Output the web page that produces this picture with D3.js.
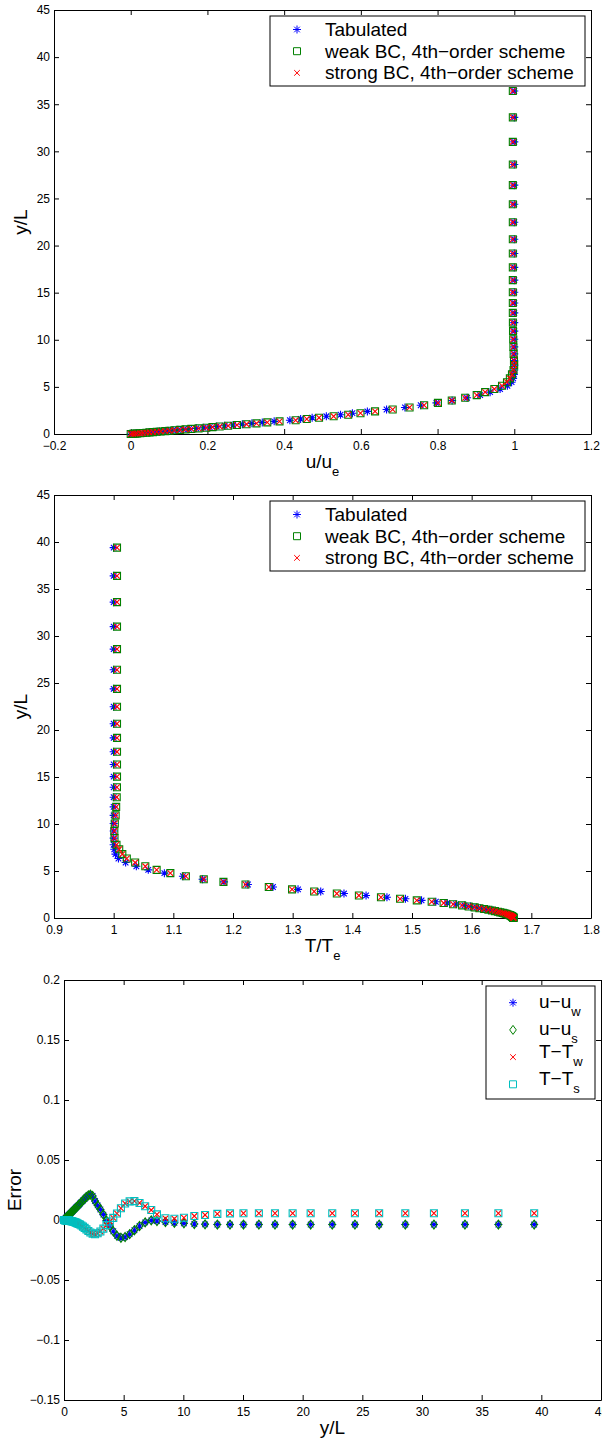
<!DOCTYPE html>
<html>
<head>
<meta charset="utf-8">
<script src="https://cdn.jsdelivr.net/npm/d3@7"></script>
<style>
  body { margin: 0; background: #fff; }
  svg { display: block; font-family: "Liberation Sans", Arial, sans-serif; }
</style>
</head>
<body>
<div id="chart"></div>
<script>
// wall-normal positions y/L of the profile points
const yGrid = [
  0, 0.02, 0.04, 0.06, 0.085, 0.11, 0.14, 0.17, 0.2,
  0.235, 0.27, 0.31, 0.35, 0.395, 0.44, 0.49, 0.54, 0.6,
  0.665, 0.73, 0.8, 0.875, 0.955, 1.04, 1.13, 1.23, 1.34,
  1.46, 1.59, 1.73, 1.88, 2.04, 2.21, 2.4, 2.6, 2.82,
  3.05, 3.3, 3.56, 3.84, 4.13, 4.44, 4.77, 5.12, 5.5,
  5.9, 6.33, 6.8, 7.31, 7.79, 8.5, 9.25, 10.05, 10.92,
  11.82, 12.85, 13.91, 15.04, 16.33, 17.68, 19.16, 20.67, 22.48,
  24.38, 26.41, 28.6, 31.0, 33.6, 36.4, 39.4
];

// u/u_e
const uTab = [
  0, 0.006, 0.012, 0.016, 0.024, 0.031, 0.040, 0.047, 0.056,
  0.066, 0.075, 0.087, 0.097, 0.110, 0.123, 0.138, 0.152, 0.171,
  0.190, 0.206, 0.224, 0.245, 0.267, 0.291, 0.316, 0.343, 0.374,
  0.415, 0.443, 0.473, 0.510, 0.547, 0.578, 0.617, 0.667, 0.715,
  0.756, 0.797, 0.838, 0.877, 0.911, 0.937, 0.963, 0.982, 0.993,
  0.997, 0.999, 1, 1, 1, 1, 1, 1, 1,
  1, 1, 1, 1, 1, 1, 1, 1, 1,
  1, 1, 1, 1, 1, 1, 1
];
const uWeak = [
  0, 0.006, 0.012, 0.017, 0.025, 0.032, 0.041, 0.049, 0.058,
  0.068, 0.078, 0.090, 0.101, 0.114, 0.128, 0.143, 0.158, 0.177,
  0.197, 0.213, 0.232, 0.254, 0.277, 0.302, 0.328, 0.356, 0.388,
  0.430, 0.459, 0.491, 0.529, 0.567, 0.599, 0.637, 0.683, 0.727,
  0.765, 0.801, 0.837, 0.872, 0.902, 0.924, 0.948, 0.968, 0.981,
  0.9885, 0.994, 0.998, 0.9997, 0.9992, 0.9983, 0.9977, 0.9972, 0.9967,
  0.9964, 0.9962, 0.9962, 0.9962, 0.9962, 0.9962, 0.9962, 0.9962, 0.9962,
  0.9962, 0.9962, 0.9962, 0.9962, 0.9962, 0.9962, 0.9962
];
// strong BC points sit on top of the weak BC ones in the picture
const uStrong = uWeak;

// T/T_e
const tTab = [
  1.670, 1.670, 1.670, 1.670, 1.669, 1.669, 1.668, 1.668, 1.667,
  1.666, 1.665, 1.664, 1.662, 1.661, 1.659, 1.656, 1.653, 1.649,
  1.645, 1.640, 1.636, 1.630, 1.623, 1.615, 1.608, 1.598, 1.588,
  1.574, 1.559, 1.540, 1.516, 1.489, 1.458, 1.423, 1.386, 1.347,
  1.309, 1.267, 1.225, 1.185, 1.149, 1.116, 1.085, 1.058, 1.038,
  1.020, 1.008, 1.003, 1.001, 1, 1, 1, 1, 1,
  1, 1, 1, 1, 1, 1, 1, 1, 1,
  1, 1, 1, 1, 1, 1, 1
];
const tWeak = [
  1.670, 1.670, 1.670, 1.670, 1.669, 1.669, 1.668, 1.668, 1.667,
  1.666, 1.665, 1.664, 1.662, 1.660, 1.658, 1.655, 1.652, 1.648,
  1.644, 1.639, 1.634, 1.628, 1.621, 1.613, 1.605, 1.595, 1.584,
  1.569, 1.553, 1.533, 1.508, 1.480, 1.448, 1.411, 1.374, 1.336,
  1.299, 1.260, 1.221, 1.184, 1.151, 1.121, 1.095, 1.072, 1.053,
  1.036, 1.022, 1.0145, 1.0093, 1.0047, 1.0014, 1.0011, 1.0019, 1.0033,
  1.0042, 1.0051, 1.0055, 1.0056, 1.0056, 1.0056, 1.0056, 1.0056, 1.0056,
  1.0056, 1.0056, 1.0056, 1.0056, 1.0056, 1.0056, 1.0056
];
const tStrong = tWeak;

// errors against the tabulated profile
const errU = [
  0, 0.0002, 0.0004, 0.0006, 0.0009, 0.0011, 0.0014, 0.0017, 0.002,
  0.0024, 0.0028, 0.0032, 0.0036, 0.004, 0.0045, 0.005, 0.0055, 0.0061,
  0.0068, 0.0074, 0.0082, 0.0089, 0.0097, 0.0106, 0.0115, 0.0125, 0.0137,
  0.0149, 0.0163, 0.0177, 0.0192, 0.0205, 0.0212, 0.0200, 0.0158, 0.0122,
  0.0088, 0.0045, -0.0005, -0.005, -0.0094, -0.0132, -0.0148, -0.0142, -0.0118,
  -0.0085, -0.005, -0.002, -0.0003, -0.0008, -0.0017, -0.0023, -0.0028, -0.0033,
  -0.0036, -0.0038, -0.0038, -0.0038, -0.0038, -0.0038, -0.0038, -0.0038, -0.0038,
  -0.0038, -0.0038, -0.0038, -0.0038, -0.0038, -0.0038, -0.0038
];
const errT = [
  0, 0, 0, -0.0001, -0.0001, -0.0001, -0.0002, -0.0002, -0.0002,
  -0.0003, -0.0003, -0.0004, -0.0004, -0.0005, -0.0006, -0.0007, -0.0008, -0.0009,
  -0.0011, -0.0013, -0.0015, -0.0017, -0.002, -0.0024, -0.0028, -0.0033, -0.0038,
  -0.0046, -0.0055, -0.0066, -0.0078, -0.0092, -0.0104, -0.0115, -0.0119, -0.0111,
  -0.0096, -0.0072, -0.0043, -0.0012, 0.0018, 0.0054, 0.0098, 0.0138, 0.0155,
  0.0157, 0.0142, 0.0115, 0.0083, 0.0047, 0.0014, 0.0011, 0.0019, 0.0033,
  0.0042, 0.0051, 0.0055, 0.0056, 0.0056, 0.0056, 0.0056, 0.0056, 0.0056,
  0.0056, 0.0056, 0.0056, 0.0056, 0.0056, 0.0056, 0.0056
];
const errUW = errU, errUS = errU, errTW = errT, errTS = errT;

// ticks
const yTicks = [0, 5, 10, 15, 20, 25, 30, 35, 40, 45];
const yTickLabels = ['0', '5', '10', '15', '20', '25', '30', '35', '40', '45'];
const uTicks = [-0.2, 0, 0.2, 0.4, 0.6, 0.8, 1, 1.2];
const uTickLabels = ['\u22120.2', '0', '0.2', '0.4', '0.6', '0.8', '1', '1.2'];
const tTicks = [0.9, 1, 1.1, 1.2, 1.3, 1.4, 1.5, 1.6, 1.7, 1.8];
const tTickLabels = ['0.9', '1', '1.1', '1.2', '1.3', '1.4', '1.5', '1.6', '1.7', '1.8'];
const errTicks = [-0.15, -0.1, -0.05, 0, 0.05, 0.1, 0.15, 0.2];
const errTickLabels = ['\u22120.15', '\u22120.1', '\u22120.05', '0', '0.05', '0.1', '0.15', '0.2'];

const profileLegend = ['Tabulated', 'weak BC, 4th\u2212order scheme', 'strong BC, 4th\u2212order scheme'];
const errorLegend = [['u\u2212u', 'w'], ['u\u2212u', 's'], ['T\u2212T', 'w'], ['T\u2212T', 's']];

const BLUE = '#0000ff', GREEN = '#008000', RED = '#ff0000', CYAN = '#00bfbf';

// MATLAB style markers
const markers = {
  star: 'M-4,0L4,0M0,-4L0,4M-2.8,-2.8L2.8,2.8M-2.8,2.8L2.8,-2.8',
  square: 'M-3.5,-3.5H3.5V3.5H-3.5Z',
  cross: 'M-2.8,-2.8L2.8,2.8M-2.8,2.8L2.8,-2.8',
  diamond: 'M0,-4.5L3.3,0L0,4.5L-3.3,0Z'
};

const svg = d3.select('#chart').append('svg')
  .attr('width', 602)
  .attr('height', 1439);

function styleAxis(g) {
  g.attr('font-size', 12).attr('font-family', '"Liberation Sans", Arial, sans-serif');
  g.selectAll('path, line').attr('stroke', '#000');
  g.selectAll('text').attr('fill', '#000');
}

function drawAxes(box, x, y, xTicks, xLabels, yTicks, yLabels) {
  svg.append('g')
    .attr('transform', `translate(0,${box.bottom})`)
    .call(d3.axisBottom(x).tickValues(xTicks).tickFormat((d, i) => xLabels[i])
      .tickSizeInner(-5).tickSizeOuter(0).tickPadding(7))
    .call(styleAxis);
  svg.append('g')
    .attr('transform', `translate(0,${box.top})`)
    .call(d3.axisTop(x).tickValues(xTicks).tickFormat('')
      .tickSizeInner(-5).tickSizeOuter(0))
    .call(styleAxis);
  svg.append('g')
    .attr('transform', `translate(${box.left},0)`)
    .call(d3.axisLeft(y).tickValues(yTicks).tickFormat((d, i) => yLabels[i])
      .tickSizeInner(-5).tickSizeOuter(0).tickPadding(4))
    .call(styleAxis);
  svg.append('g')
    .attr('transform', `translate(${box.right},0)`)
    .call(d3.axisRight(y).tickValues(yTicks).tickFormat('')
      .tickSizeInner(-5).tickSizeOuter(0))
    .call(styleAxis);
}

function plotSeries(xs, ys, x, y, shape, color) {
  svg.append('g')
    .selectAll('path')
    .data(xs.map((v, i) => ({ x: v, y: ys[i] })))
    .enter().append('path')
    .attr('transform', d => `translate(${x(d.x)},${y(d.y)})`)
    .attr('d', markers[shape])
    .attr('fill', 'none')
    .attr('stroke', color)
    .attr('stroke-width', 1.1);
}

function yLabel(text, xPos, box) {
  svg.append('text')
    .attr('transform', `translate(${xPos},${(box.top + box.bottom) / 2}) rotate(-90)`)
    .attr('text-anchor', 'middle')
    .attr('font-size', 19)
    .text(text);
}

function xLabel(main, sub, box) {
  const t = svg.append('text')
    .attr('x', (box.left + box.right) / 2)
    .attr('y', box.bottom + 34)
    .attr('text-anchor', 'middle')
    .attr('font-size', 19)
    .text(main);
  if (sub) t.append('tspan').attr('font-size', 13).attr('dy', 8).text(sub);
}

function profileLegendBox(box) {
  const lx = box.left + 216, ly = box.top + 6, lw = 315, lh = 70;
  svg.append('rect')
    .attr('x', lx).attr('y', ly).attr('width', lw).attr('height', lh)
    .attr('fill', '#fff').attr('stroke', '#000').attr('stroke-width', 1);
  const shapes = [['star', BLUE], ['square', GREEN], ['cross', RED]];
  profileLegend.forEach((label, i) => {
    const cy = ly + 13.5 + i * 21.7;
    svg.append('path')
      .attr('transform', `translate(${lx + 27},${cy})`)
      .attr('d', markers[shapes[i][0]])
      .attr('fill', 'none').attr('stroke', shapes[i][1]);
    svg.append('text')
      .attr('x', lx + 55).attr('y', cy + 6.5)
      .attr('font-size', 19)
      .text(label);
  });
}

// ---- panel 1: velocity profile
const box1 = { left: 54, right: 591, top: 10, bottom: 434 };
const x1 = d3.scaleLinear().domain([-0.2, 1.2]).range([box1.left, box1.right]);
const y1 = d3.scaleLinear().domain([0, 45]).range([box1.bottom, box1.top]);
drawAxes(box1, x1, y1, uTicks, uTickLabels, yTicks, yTickLabels);
plotSeries(uTab, yGrid, x1, y1, 'star', BLUE);
plotSeries(uWeak, yGrid, x1, y1, 'square', GREEN);
plotSeries(uStrong, yGrid, x1, y1, 'cross', RED);
profileLegendBox(box1);
yLabel('y/L', 27, box1);
xLabel('u/u', 'e', box1);

// ---- panel 2: temperature profile
const box2 = { left: 54, right: 591, top: 495, bottom: 918 };
const x2 = d3.scaleLinear().domain([0.9, 1.8]).range([box2.left, box2.right]);
const y2 = d3.scaleLinear().domain([0, 45]).range([box2.bottom, box2.top]);
drawAxes(box2, x2, y2, tTicks, tTickLabels, yTicks, yTickLabels);
plotSeries(tTab, yGrid, x2, y2, 'star', BLUE);
plotSeries(tWeak, yGrid, x2, y2, 'square', GREEN);
plotSeries(tStrong, yGrid, x2, y2, 'cross', RED);
profileLegendBox(box2);
yLabel('y/L', 27, box2);
xLabel('T/T', 'e', box2);

// ---- panel 3: errors
const box3 = { left: 64, right: 601, top: 980, bottom: 1400 };
const x3 = d3.scaleLinear().domain([0, 45]).range([box3.left, box3.right]);
const y3 = d3.scaleLinear().domain([-0.15, 0.2]).range([box3.bottom, box3.top]);
drawAxes(box3, x3, y3, yTicks, yTickLabels, errTicks, errTickLabels);
plotSeries(yGrid, errUW, x3, y3, 'star', BLUE);
plotSeries(yGrid, errUS, x3, y3, 'diamond', GREEN);
plotSeries(yGrid, errTW, x3, y3, 'cross', RED);
plotSeries(yGrid, errTS, x3, y3, 'square', CYAN);
yLabel('Error', 21, box3);
xLabel('y/L', null, box3);

// legend of the error panel
{
  const lx = box3.left + 422, ly = box3.top + 6, lw = 109, lh = 113;
  svg.append('rect')
    .attr('x', lx).attr('y', ly).attr('width', lw).attr('height', lh)
    .attr('fill', '#fff').attr('stroke', '#000').attr('stroke-width', 1);
  const shapes = [['star', BLUE], ['diamond', GREEN], ['cross', RED], ['square', CYAN]];
  errorLegend.forEach((label, i) => {
    const cy = ly + 16.7 + i * 27.2;
    svg.append('path')
      .attr('transform', `translate(${lx + 27},${cy})`)
      .attr('d', markers[shapes[i][0]])
      .attr('fill', 'none').attr('stroke', shapes[i][1]);
    const t = svg.append('text')
      .attr('x', lx + 53).attr('y', cy + (i < 2 ? 5.5 : 1))
      .attr('font-size', 19)
      .text(label[0]);
    t.append('tspan').attr('font-size', 13).attr('dy', 7.5).text(label[1]);
  });
}
</script>
</body>
</html>
